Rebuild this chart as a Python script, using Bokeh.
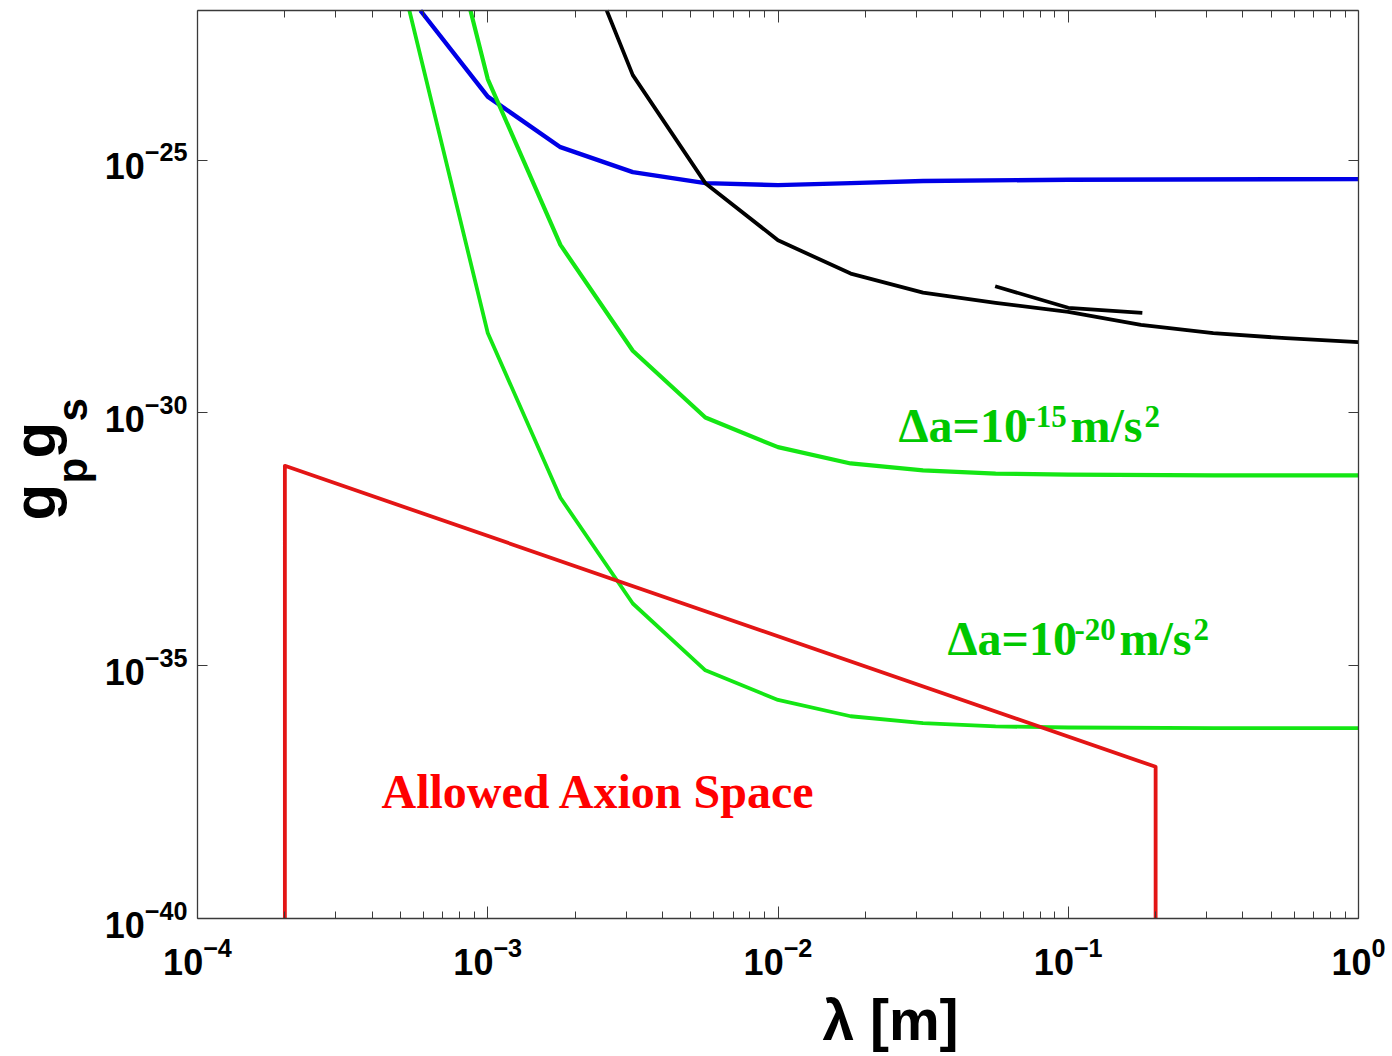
import math
from bokeh.plotting import figure
from bokeh.models import LogAxis, FixedTicker, Label, CustomJSTickFormatter
from bokeh.embed import file_html
from bokeh.resources import INLINE

# ---------------- data ----------------
# first point of each curve = where it enters through the top edge
lam_da20 = [5.37e-4, 1.0e-3, 1.78e-3, 3.16e-3, 5.62e-3, 1.0e-2, 1.78e-2,
            3.16e-2, 5.62e-2, 1.0e-1, 3.16e-1, 1.0]
g_da20 = [9.1e-23, 3.8e-29, 2.1e-32, 1.7e-34, 8.1e-36, 2.1e-36, 1.0e-36,
          7.3e-37, 6.3e-37, 6.0e-37, 5.8e-37, 5.8e-37]
lam_da15 = [8.72e-4, 1.0e-3, 1.78e-3, 3.16e-3, 5.62e-3, 1.0e-2, 1.78e-2,
            3.16e-2, 5.62e-2, 1.0e-1, 3.16e-1, 1.0]
g_da15 = [9.1e-23, 4.0e-24, 2.1e-27, 1.7e-29, 8.1e-31, 2.1e-31, 1.0e-31,
          7.3e-32, 6.3e-32, 6.0e-32, 5.8e-32, 5.8e-32]

lam_blue = [5.86e-4, 1.0e-3, 1.78e-3, 3.16e-3, 5.62e-3, 1.0e-2, 1.78e-2,
            3.16e-2, 1.0e-1, 1.0]
g_blue = [9.1e-23, 1.8e-24, 1.8e-25, 5.8e-26, 3.5e-26, 3.2e-26, 3.5e-26,
          3.85e-26, 4.1e-26, 4.2e-26]

lam_black = [2.57e-3, 3.16e-3, 5.62e-3, 1.0e-2, 1.78e-2, 3.16e-2, 5.62e-2,
             1.0e-1, 1.78e-1, 3.16e-1, 5.62e-1, 1.0]
g_black = [9.1e-23, 4.8e-24, 3.5e-26, 2.6e-27, 5.7e-28, 2.4e-28, 1.5e-28,
           1.0e-28, 5.5e-29, 3.8e-29, 3.0e-29, 2.5e-29]

lam_black_short = [5.6e-2, 1.0e-1, 1.8e-1]
g_black_short = [3.2e-28, 1.2e-28, 9.5e-29]

lam_allowed = [2.0e-4, 2.0e-4, 2.0e-1, 2.0e-1]
g_allowed = [1.0e-40, 9.0e-32, 1.0e-37, 1.0e-40]

x_ticks = [1e-4, 1e-3, 1e-2, 1e-1, 1e0]
x_minor = [m * 10.0 ** e for e in range(-4, 0) for m in range(2, 10)]
y_ticks = [1e-40, 1e-35, 1e-30, 1e-25]

X_LO, X_HI = 1e-4, 1.0
Y_LO, Y_HI = 1e-40, 9.1e-23

# ---------------- layout geometry (page pixels) ----------------
W, H = 1392, 1056
L, R, T, B = 197, 1358, 10, 918          # plot box edges
XDEC = (R - L) / (math.log10(X_HI) - math.log10(X_LO))
YDEC = (B - T) / (math.log10(Y_HI) - math.log10(Y_LO))
x_start = 10 ** (math.log10(X_LO) - L / XDEC)
x_end = 10 ** (math.log10(X_HI) + (W - R) / XDEC)
y_start = 10 ** (math.log10(Y_LO) - (H - B) / YDEC)
y_end = 10 ** (math.log10(Y_HI) + T / YDEC)

p = figure(x_axis_type="log", y_axis_type="log",
           x_range=(x_start, x_end), y_range=(y_start, y_end),
           width=W, height=H, min_border=0,
           min_border_left=0, min_border_right=0, min_border_top=0,
           min_border_bottom=0,
           output_backend="svg", toolbar_location=None)
p.grid.visible = False
p.background_fill_color = "white"
p.border_fill_color = "white"
p.outline_line_color = None

AX = "#3a3a3a"


def style_axis(ax, ticker, loc, bounds, show_labels, tick_in, minor_in, standoff=10):
    ax.ticker = ticker
    ax.fixed_location = loc
    ax.bounds = bounds
    ax.axis_line_color = AX
    ax.axis_line_width = 1.3
    ax.major_tick_line_color = AX
    ax.minor_tick_line_color = AX
    ax.major_tick_in = tick_in
    ax.major_tick_out = 0
    ax.minor_tick_in = minor_in
    ax.minor_tick_out = 0
    if show_labels:
        ax.major_label_text_font = "Liberation Sans"
        ax.major_label_text_font_style = "bold"
        ax.major_label_text_font_size = "36px"
        ax.major_label_text_color = "black"
        ax.major_label_standoff = standoff
    else:
        ax.formatter = CustomJSTickFormatter(code="return ''")
        ax.major_label_text_font_size = "0px"
        ax.major_label_standoff = 0


style_axis(p.xaxis[0], FixedTicker(ticks=x_ticks, minor_ticks=x_minor),
           Y_LO, (X_LO, X_HI), True, 12, 7, standoff=18)
style_axis(p.yaxis[0], FixedTicker(ticks=y_ticks, minor_ticks=[]),
           X_LO, (Y_LO, Y_HI), True, 10, 0, standoff=10)

top = LogAxis()
style_axis(top, FixedTicker(ticks=x_ticks, minor_ticks=x_minor),
           Y_HI, (X_LO, X_HI), False, 12, 7)
p.add_layout(top, "above")
right = LogAxis()
style_axis(right, FixedTicker(ticks=y_ticks, minor_ticks=[]),
           X_HI, (Y_LO, Y_HI), False, 10, 0)
p.add_layout(right, "right")

# ---------------- curves ----------------
p.line(lam_blue, g_blue, line_color="#0000e6", line_width=4.4, line_join="round")
p.line(lam_black, g_black, line_color="black", line_width=3.8, line_join="round")
p.line(lam_black_short, g_black_short, line_color="black", line_width=3.8, line_join="round")
p.line(lam_da15, g_da15, line_color="#14e614", line_width=4.2, line_join="round")
p.line(lam_da20, g_da20, line_color="#14e614", line_width=3.8, line_join="round")
p.line(lam_allowed, g_allowed, line_color="#e31515", line_width=3.8, line_join="round")


# ---------------- annotations ----------------
MID = 0.36  # distance (em) between the baseline and the vertical middle


def put(text, sx, sy, size, color, font, angle=0.0, align="left"):
    """sx, sy: page pixel of the text's start on its baseline."""
    if angle == 0.0:
        ax_, ay_ = sx, sy - MID * size
    else:  # rotated 90 deg ccw: text 'up' is screen-left
        ax_, ay_ = sx - MID * size, sy
    p.add_layout(Label(x=X_LO, y=Y_LO, x_offset=ax_ - L, y_offset=B - ay_,
                       text=text, text_font=font, text_font_style="bold",
                       text_font_size=f"{size}px", text_color=color,
                       text_align=align, text_baseline="middle",
                       angle=angle))


SERIF = "Liberation Serif"
SANS = "Liberation Sans"
GREEN_TXT = "#00c800"

put("Allowed Axion Space", 381, 808, 48, "#ff0000", SERIF)

for (x0, y0, ex) in [(898, 442, "-15"), (947, 655, "-20")]:
    put("\u0394a=10", x0, y0, 48, GREEN_TXT, SERIF)
    put(ex, x0 + 127, y0 - 15, 31, GREEN_TXT, SERIF)
    put("m/s", x0 + 172, y0, 48, GREEN_TXT, SERIF)
    put("2", x0 + 246, y0 - 15, 31, GREEN_TXT, SERIF)

# x-axis title
put("\u03bb [m]", 890, 1040, 57, "black", SANS, align="center")

# y-axis title  g_p g_s (rotated)
ang = math.pi / 2
put("g", 56, 520, 60, "black", SANS, angle=ang)
put("p", 87, 483, 42, "black", SANS, angle=ang)
put("g", 56, 458, 60, "black", SANS, angle=ang)
put("s", 87, 421, 42, "black", SANS, angle=ang)

open("out.html", "w").write(file_html(p, INLINE))
